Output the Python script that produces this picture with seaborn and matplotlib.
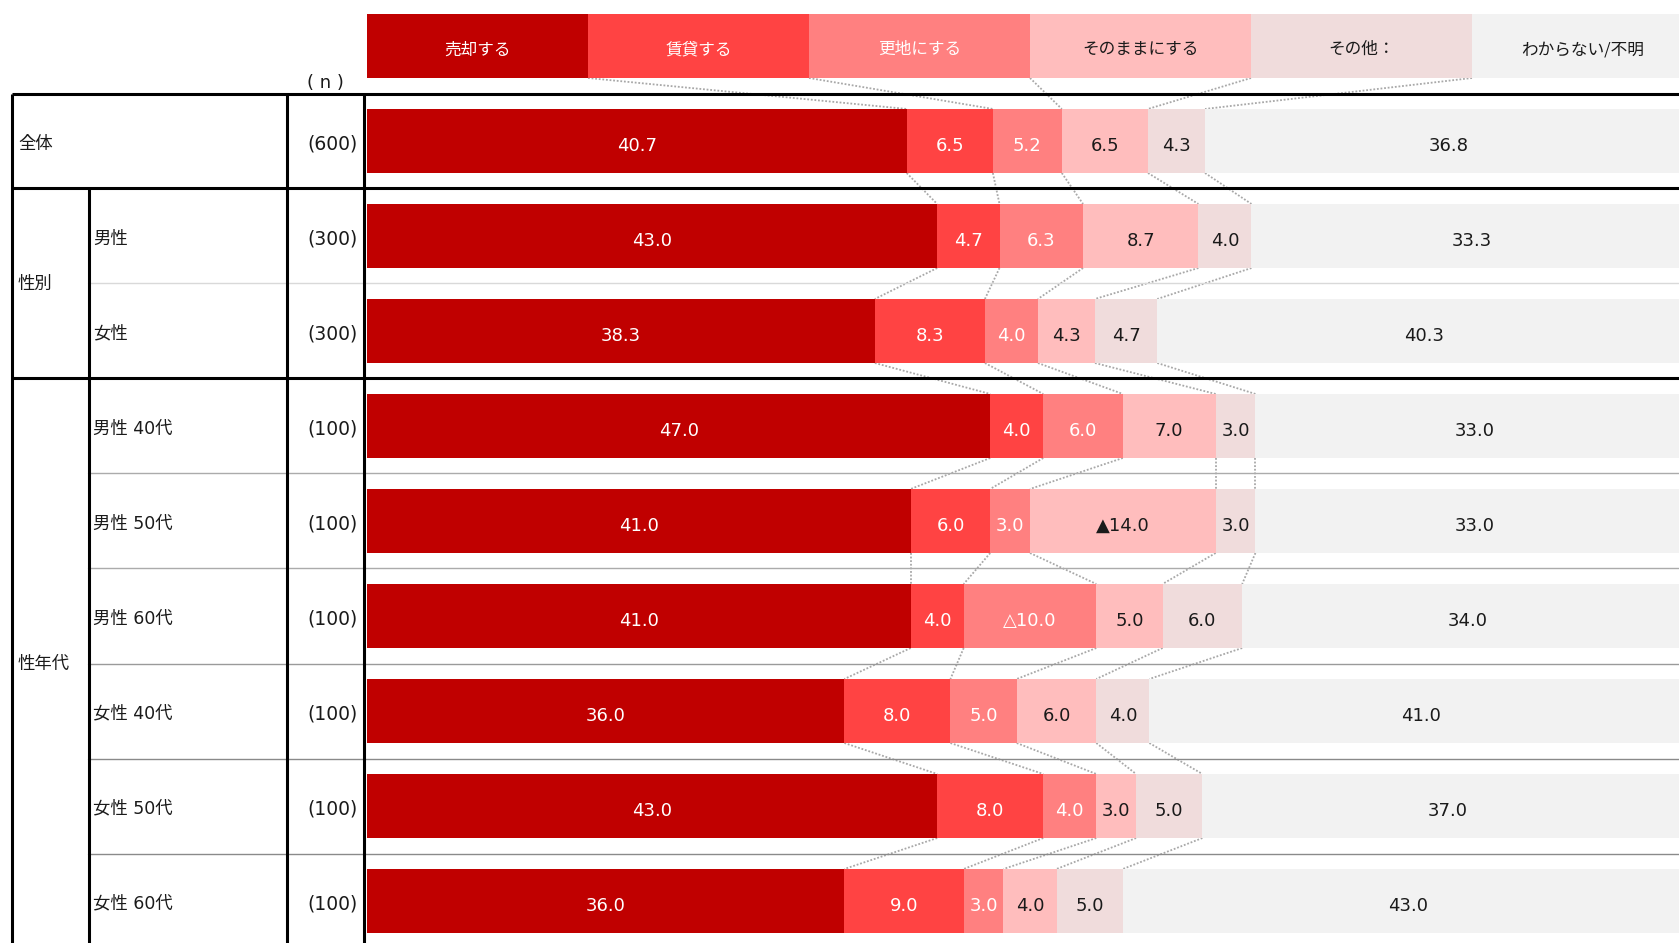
import matplotlib
matplotlib.use("Agg")
import matplotlib.pyplot as plt
import matplotlib.transforms as mtransforms
import numpy as np
import pandas as pd
import seaborn as sns

# Answer categories (stack order, left to right)
categories = ["売却する", "賃貸する", "更地にする", "そのままにする", "その他：", "わからない/不明"]

# Respondent segments
row_labels = ["全体", "男性", "女性", "男性 40代", "男性 50代", "男性 60代",
              "女性 40代", "女性 50代", "女性 60代"]
n_labels = ["(600)", "(300)", "(300)", "(100)", "(100)", "(100)", "(100)", "(100)", "(100)"]
groups = [("性別", 1, 2), ("性年代", 3, 8)]

# Shares (%) per category, one value per segment
sell = [40.7, 43.0, 38.3, 47.0, 41.0, 41.0, 36.0, 43.0, 36.0]
rent = [6.5, 4.7, 8.3, 4.0, 6.0, 4.0, 8.0, 8.0, 9.0]
vacant_lot = [5.2, 6.3, 4.0, 6.0, 3.0, 10.0, 5.0, 4.0, 3.0]
keep_as_is = [6.5, 8.7, 4.3, 7.0, 14.0, 5.0, 6.0, 3.0, 4.0]
other = [4.3, 4.0, 4.7, 3.0, 3.0, 6.0, 4.0, 5.0, 5.0]
unknown = [36.8, 33.3, 40.3, 33.0, 33.0, 34.0, 41.0, 37.0, 43.0]
series = [sell, rent, vacant_lot, keep_as_is, other, unknown]

# Significance marks: (segment index, category index) -> prefix
sig_marks = {(4, 3): "▲", (5, 2): "△"}

colors = ["#C00000", "#FF4343", "#FF8080", "#FFBDBD", "#F0DCDC", "#F2F2F2"]
text_colors = ["white"] * 3 + ["#1A1A1A"] * 3

sns.set_theme(style="white")
plt.rcParams["font.family"] = ["DejaVu Sans", "Noto Sans CJK JP"]
JP = ["Noto Sans CJK JP", "DejaVu Sans"]
MIX = ["DejaVu Sans", "Noto Sans CJK JP"]

W, H = 1679, 943
fig = plt.figure(figsize=(W / 100, H / 100), dpi=100)
fig.patch.set_facecolor("white")
ax = fig.add_axes([367 / W, 0, 1326 / W, 1])

vals = np.array(series).T
cum = np.cumsum(vals, axis=1)
df = pd.DataFrame(cum, columns=categories)
df["segment"] = row_labels

bar_h = 0.674
# Stacked bars: draw cumulative totals from the widest to the narrowest
for j in reversed(range(len(categories))):
    sns.barplot(data=df, x=categories[j], y="segment", order=row_labels, orient="h",
                color=colors[j], saturation=1, width=bar_h, linewidth=0,
                errorbar=None, ax=ax, zorder=2)

# Category header row, equal-width boxes
step = 100 / len(categories)
for j, cat in enumerate(categories):
    ax.barh(-1, step, left=j * step, height=bar_h, color=colors[j], linewidth=0, zorder=2)
    ax.text(j * step + step / 2, -1 + 0.04, cat, ha="center", va="center", fontsize=12,
            color=text_colors[j], family=JP, zorder=3)

ax.set_xlim(0, 100)
ax.set_ylim(8.442, -1.484)
ax.set_axis_off()

# Value labels
for i in range(len(row_labels)):
    left = 0.0
    for j in range(len(categories)):
        v = vals[i, j]
        label = sig_marks.get((i, j), "") + f"{v:.1f}"
        ax.text(left + v / 2, i + 0.05, label, ha="center", va="center", fontsize=13,
                color=text_colors[j], zorder=3)
        left += v

# Dotted connectors between stacked boundaries of consecutive rows
edges = [np.arange(1, len(categories)) * step] + [c[:-1] for c in cum]
for k in range(len(edges) - 1):
    y_top = k - 1 + bar_h / 2
    y_bot = k - bar_h / 2
    for a, b in zip(edges[k], edges[k + 1]):
        ax.plot([a, b], [y_top, y_bot], color="#A8A8A8", lw=1.3, ls=(0, (1, 1)), zorder=1)

# Table frame on the left
trans = mtransforms.blended_transform_factory(fig.transFigure, ax.transData)
thick = 2.2
y_bottom = 9.0
for y in [-0.49, 0.5, 2.5]:
    ax.plot([12 / W, 1], [y, y], transform=trans, color="black", lw=thick,
            clip_on=False, solid_capstyle="butt", zorder=4)
thin_colors = {1.5: "#D9D9D9", 3.5: "#ABABAB", 4.5: "#ABABAB", 5.5: "#9A9A9A",
               6.5: "#8A8A8A", 7.5: "#8A8A8A"}
for y, c in thin_colors.items():
    ax.plot([88 / W, 1], [y, y], transform=trans, color=c, lw=1.0,
            clip_on=False, zorder=1.5)
for x, y0 in [(12, -0.49), (88.5, 0.5), (287, -0.49), (363.5, -0.49)]:
    ax.plot([x / W, x / W], [y0, y_bottom], transform=trans, color="black", lw=thick,
            clip_on=False, solid_capstyle="butt", zorder=4)

# Row labels and sample sizes
ax.text(325 / W, -0.61, "( n )", transform=trans, ha="center", va="center",
        fontsize=13, color="#1A1A1A")
for i, (lab, n) in enumerate(zip(row_labels, n_labels)):
    x = 18 if i == 0 else 93
    ax.text(x / W, i + 0.03, lab, transform=trans, ha="left", va="center", fontsize=12.5,
            color="#1A1A1A", family=MIX)
    ax.text(358 / W, i + 0.03, n, transform=trans, ha="right", va="center",
            fontsize=13.5, color="#1A1A1A")
for name, r0, r1 in groups:
    ax.text(18 / W, (r0 + r1) / 2, name, transform=trans, ha="left", va="center",
            fontsize=12.5, color="#1A1A1A", family=JP)

fig.savefig("out.png", dpi=100, facecolor="white")
